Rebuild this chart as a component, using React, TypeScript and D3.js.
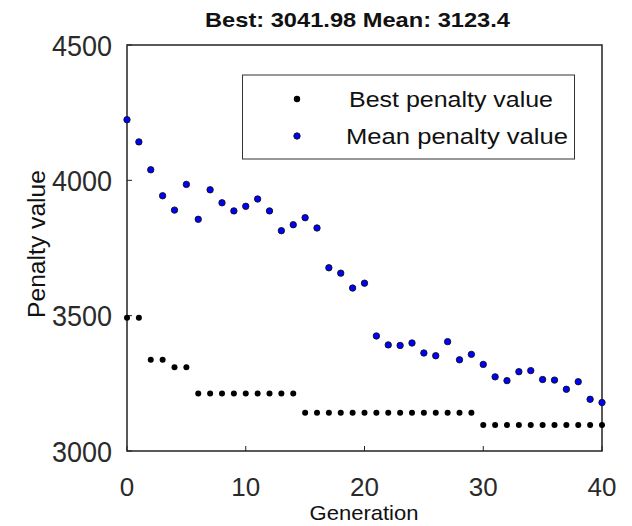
import { useEffect, useRef } from "react"
import * as d3 from "d3"

const generations = d3.range(0, 41)

const bestValues = [
  3492, 3492, 3337, 3337, 3309, 3309,
  3212, 3212, 3212, 3212, 3212, 3212, 3212, 3212, 3212,
  3141, 3141, 3141, 3141, 3141, 3141, 3141, 3141, 3141, 3141, 3141, 3141, 3141, 3141, 3141,
  3096, 3096, 3096, 3096, 3096, 3096, 3096, 3096, 3096, 3096, 3096,
]

const meanValues = [
  4224, 4142, 4039, 3943, 3890, 3985, 3856, 3965, 3917, 3887,
  3904, 3931, 3887, 3814, 3836, 3862, 3824, 3677, 3657, 3602,
  3620, 3425, 3392, 3390, 3399, 3362, 3352, 3404, 3337, 3357,
  3320, 3274, 3260, 3293, 3297, 3264, 3262, 3228, 3256, 3191,
  3179,
]

const xTicks = [0, 10, 20, 30, 40]
const yTicks = [3000, 3500, 4000, 4500]
const legendLabels = ["Best penalty value", "Mean penalty value"]
const title = "Best: 3041.98 Mean: 3123.4"

export default function App() {
  const svgRef = useRef<SVGSVGElement>(null)

  useEffect(() => {
    if (!svgRef.current) return
    const svg = d3.select(svgRef.current)
    svg.selectAll("*").remove()

    const left = 127
    const right = 602
    const top = 45
    const bottom = 451
    const font = "Arial, 'Liberation Sans', sans-serif"

    const x = d3.scaleLinear().domain([0, 40]).range([left, right])
    const y = d3.scaleLinear().domain([3000, 4500]).range([bottom, top])

    // frame
    svg
      .append("rect")
      .attr("x", left)
      .attr("y", top)
      .attr("width", right - left)
      .attr("height", bottom - top)
      .attr("fill", "white")
      .attr("stroke", "#222")
      .attr("stroke-width", 1.5)

    // ticks (inside)
    svg
      .selectAll(".xtick")
      .data(xTicks)
      .join("line")
      .attr("x1", (d) => x(d))
      .attr("x2", (d) => x(d))
      .attr("y1", bottom)
      .attr("y2", bottom - 5)
      .attr("stroke", "#222")

    svg
      .selectAll(".ytick")
      .data(yTicks)
      .join("line")
      .attr("x1", left)
      .attr("x2", left + 5)
      .attr("y1", (d) => y(d))
      .attr("y2", (d) => y(d))
      .attr("stroke", "#222")

    // tick labels
    svg
      .selectAll(".xlab")
      .data(xTicks)
      .join("text")
      .attr("x", (d) => x(d))
      .attr("y", 496)
      .attr("text-anchor", "middle")
      .style("font-family", font)
      .style("font-size", "26px")
      .attr("fill", "#2a2a2a")
      .text((d) => d)

    svg
      .selectAll(".ylab")
      .data(yTicks)
      .join("text")
      .attr("x", 112)
      .attr("y", (d) => y(d) + 10.5)
      .attr("text-anchor", "end")
      .attr("textLength", 60)
      .attr("lengthAdjust", "spacingAndGlyphs")
      .style("font-family", font)
      .style("font-size", "29px")
      .attr("fill", "#2a2a2a")
      .text((d) => d)

    // axis titles
    svg
      .append("text")
      .attr("x", 364)
      .attr("y", 520)
      .attr("text-anchor", "middle")
      .attr("textLength", 109)
      .attr("lengthAdjust", "spacingAndGlyphs")
      .style("font-family", font)
      .style("font-size", "21px")
      .attr("fill", "#111")
      .text("Generation")

    svg
      .append("text")
      .attr("transform", "translate(45,244) rotate(-90)")
      .attr("text-anchor", "middle")
      .attr("textLength", 148)
      .attr("lengthAdjust", "spacingAndGlyphs")
      .style("font-family", font)
      .style("font-size", "23px")
      .attr("fill", "#111")
      .text("Penalty value")

    svg
      .append("text")
      .attr("x", 357.5)
      .attr("y", 27)
      .attr("text-anchor", "middle")
      .attr("textLength", 305)
      .attr("lengthAdjust", "spacingAndGlyphs")
      .style("font-family", font)
      .style("font-size", "21px")
      .style("font-weight", "bold")
      .attr("fill", "#111")
      .text(title)

    // points
    svg
      .append("g")
      .selectAll("circle")
      .data(bestValues)
      .join("circle")
      .attr("cx", (_, i) => x(generations[i]))
      .attr("cy", (d) => y(d))
      .attr("r", 3)
      .attr("fill", "black")

    svg
      .append("g")
      .selectAll("circle")
      .data(meanValues)
      .join("circle")
      .attr("cx", (_, i) => x(generations[i]))
      .attr("cy", (d) => y(d))
      .attr("r", 3.2)
      .attr("fill", "#0000ff")
      .attr("stroke", "#111")
      .attr("stroke-width", 0.9)

    // legend
    const legend = svg.append("g")
    legend
      .append("rect")
      .attr("x", 242.5)
      .attr("y", 75)
      .attr("width", 332)
      .attr("height", 84)
      .attr("fill", "white")
      .attr("stroke", "#333")
      .attr("stroke-width", 1)

    const legendRows = [
      { label: legendLabels[0], fill: "black", stroke: "none", cy: 99, tx: 349, tl: 204, base: 107 },
      { label: legendLabels[1], fill: "#0000ff", stroke: "#111", cy: 136, tx: 346, tl: 222, base: 144 },
    ]
    legendRows.forEach((r) => {
      legend
        .append("circle")
        .attr("cx", 297)
        .attr("cy", r.cy)
        .attr("r", 3.2)
        .attr("fill", r.fill)
        .attr("stroke", r.stroke)
        .attr("stroke-width", 0.9)
      legend
        .append("text")
        .attr("x", r.tx)
        .attr("y", r.base)
        .attr("textLength", r.tl)
        .attr("lengthAdjust", "spacingAndGlyphs")
        .style("font-family", font)
        .style("font-size", "22px")
        .attr("fill", "#111")
        .text(r.label)
    })
  }, [])

  return (
    <svg
      ref={svgRef}
      width={632}
      height={526}
      style={{ position: "absolute", left: 0, top: 0, background: "white" }}
    ></svg>
  )
}
